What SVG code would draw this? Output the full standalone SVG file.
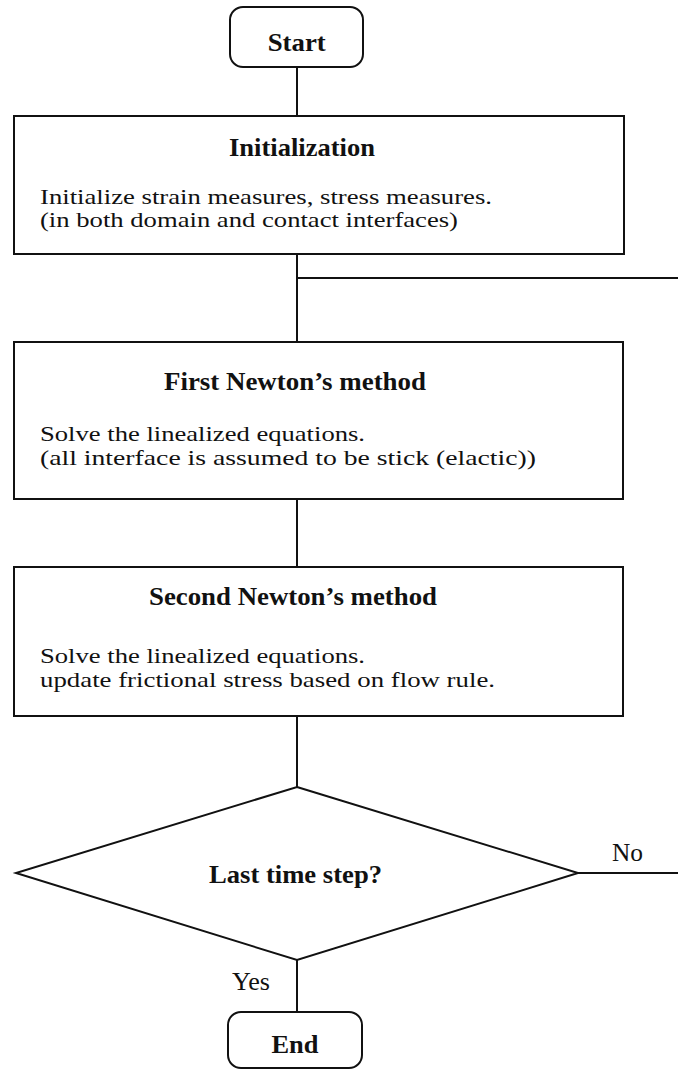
<svg xmlns="http://www.w3.org/2000/svg" width="678" height="1070" viewBox="0 0 678 1070">
<style>
.shape{fill:#fff;stroke:#111;stroke-width:2}
.conn line{stroke:#111;stroke-width:2;fill:none}
text{font-family:'Liberation Serif','Times New Roman',serif;font-size:22px;fill:#111}
.b{font-weight:bold;font-size:25px}
.lbl{font-size:25px}
</style>
<rect width="678" height="1070" fill="#fff"/>
<g class="conn" id="connectors">
<line x1="297" y1="67" x2="297" y2="116"/>
<line x1="297" y1="254" x2="297" y2="342"/>
<line x1="297" y1="278" x2="678" y2="278"/>
<line x1="297" y1="499" x2="297" y2="567"/>
<line x1="297" y1="716" x2="297" y2="787"/>
<line x1="297" y1="960" x2="297" y2="1012"/>
<line x1="578" y1="873" x2="678" y2="873"/>
</g>
<g id="start">
<rect class="shape" x="230" y="7" width="133" height="60" rx="13"/>
<text class="b" x="296.7" y="51" text-anchor="middle" textLength="58" lengthAdjust="spacingAndGlyphs">Start</text>
</g>
<g id="init">
<rect class="shape" x="14" y="116" width="610" height="138"/>
<text class="b" x="229" y="156" textLength="146" lengthAdjust="spacingAndGlyphs">Initialization</text>
<text x="40" y="203.5" textLength="452" lengthAdjust="spacingAndGlyphs">Initialize strain measures, stress measures.</text>
<text x="40" y="227" textLength="418" lengthAdjust="spacingAndGlyphs">(in both domain and contact interfaces)</text>
</g>
<g id="first">
<rect class="shape" x="14" y="342" width="609" height="157"/>
<text class="b" x="164" y="390" textLength="262" lengthAdjust="spacingAndGlyphs">First Newton’s method</text>
<text x="40" y="441" textLength="325" lengthAdjust="spacingAndGlyphs">Solve the linealized equations.</text>
<text x="40" y="464.5" textLength="496" lengthAdjust="spacingAndGlyphs">(all interface is assumed to be stick (elactic))</text>
</g>
<g id="second">
<rect class="shape" x="14" y="567" width="609" height="149"/>
<text class="b" x="149" y="605" textLength="288" lengthAdjust="spacingAndGlyphs">Second Newton’s method</text>
<text x="40" y="663" textLength="325" lengthAdjust="spacingAndGlyphs">Solve the linealized equations.</text>
<text x="40" y="687" textLength="455" lengthAdjust="spacingAndGlyphs">update frictional stress based on flow rule.</text>
</g>
<g id="decision">
<polygon class="shape" points="297,787 578,873 297,960 16,873"/>
<text class="b" x="209" y="883" textLength="173" lengthAdjust="spacingAndGlyphs">Last time step?</text>
</g>
<g id="labels">
<text class="lbl" x="612" y="861" textLength="31" lengthAdjust="spacingAndGlyphs">No</text>
<text class="lbl" x="232" y="990" textLength="38" lengthAdjust="spacingAndGlyphs">Yes</text>
</g>
<g id="end">
<rect class="shape" x="228" y="1012" width="134" height="56" rx="13"/>
<text class="b" x="295" y="1053" text-anchor="middle" textLength="47" lengthAdjust="spacingAndGlyphs">End</text>
</g>
</svg>
